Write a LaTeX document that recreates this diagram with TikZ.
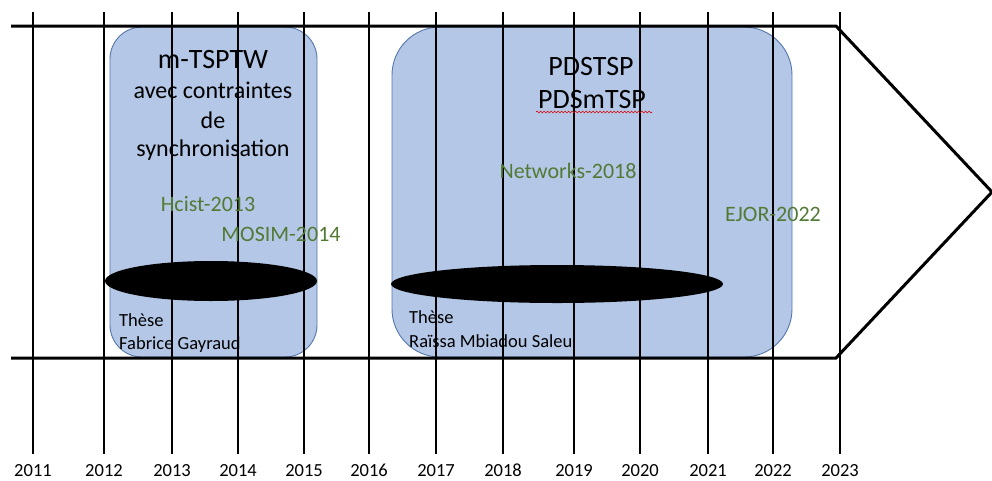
\documentclass[tikz,border=0pt]{standalone}
\usepackage{fontspec}
\setmainfont{Carlito}
\usetikzlibrary{decorations.pathmorphing}
\definecolor{boxfill}{HTML}{B4C7E7}
\definecolor{boxedge}{HTML}{5577AA}
\definecolor{pubgreen}{HTML}{527A35}
\tikzset{
  x=1pt, y=-1pt,
  projbox/.style={fill=boxfill, draw=boxedge, line width=0.9pt},
  yearline/.style={line width=1.1pt, black},
  arrowline/.style={line width=3pt, black, line join=miter},
  pub/.style={text=pubgreen, font=\fontsize{22}{24}\selectfont, anchor=base, inner sep=0pt},
  title/.style={font=\fontsize{24}{26}\selectfont, anchor=base, inner sep=0pt},
  bigtitle/.style={font=\fontsize{28}{30}\selectfont, anchor=base, inner sep=0pt},
  these/.style={font=\fontsize{18.5}{20}\selectfont, anchor=base west, inner sep=0pt},
  year/.style={font=\fontsize{18.5}{20}\selectfont, anchor=base, inner sep=0pt, text depth=0pt},
  thesis/.style={fill=black, draw=none}
}
\begin{document}
\begin{tikzpicture}
\useasboundingbox (0,0) rectangle (992,480);
% project boxes
\draw[projbox, rounded corners=32pt] (110,27) rectangle (317,357);
\draw[projbox, rounded corners=48pt] (392,27) rectangle (792,357);
% year lines and labels
\foreach \xx/\yr in {33/2011,104/2012,172/2013,238/2014,304/2015,369/2016,436/2017,503/2018,574/2019,640/2020,708/2021,773/2022,840/2023}{
  \draw[yearline] (\xx,12) -- (\xx,454);
  \node[year] (y\yr) at (\xx,476) {\yr};
}
% timeline arrow
\coordinate (tl) at (11,26);
\coordinate (tc) at (836,26);
\coordinate (tip) at (992,192);
\coordinate (bc) at (836,358);
\coordinate (bl) at (11,358);
\draw[arrowline] (tl) -- (tc) -- (tip) -- (bc) -- (bl);
% thesis ellipses
\fill[thesis] (211,281) ellipse [x radius=106, y radius=20];
\fill[thesis] (557,284) ellipse [x radius=166, y radius=19];
% box 1 texts
\node[bigtitle] (t1a) at (213,68) {m-TSPTW};
\node[title] (t1b) at (213,98) {avec contraintes};
\node[title] (t1c) at (213,128) {de};
\node[title] (t1d) at (213,156) {synchronisation};
\node[pub] (hcist) at (208,211) {Hcist-2013};
\node[pub] (mosim) at (281,241) {MOSIM-2014};
\node[these] (th1a) at (119,326) {Thèse};
\node[these] (th1b) at (119,349) {Fabrice Gayraud};
% box 2 texts
\node[bigtitle] (t2a) at (591,75) {PDSTSP};
\node[bigtitle] (t2b) at (592,108) {PDSmTSP};
\coordinate (wa) at (536,112);
\coordinate (wb) at (652,112);
\draw[red!85!black, line width=0.6pt, decorate, decoration={snake, amplitude=0.9pt, segment length=3.5pt}] (wa) -- (wb);
\node[pub] (net) at (568,178) {Networks-2018};
\node[pub] (ejor) at (773,221) {EJOR-2022};
\node[these] (th2a) at (409,323) {Thèse};
\node[these] (th2b) at (409,347) {Raïssa Mbiadou Saleu};
\end{tikzpicture}
\end{document}
